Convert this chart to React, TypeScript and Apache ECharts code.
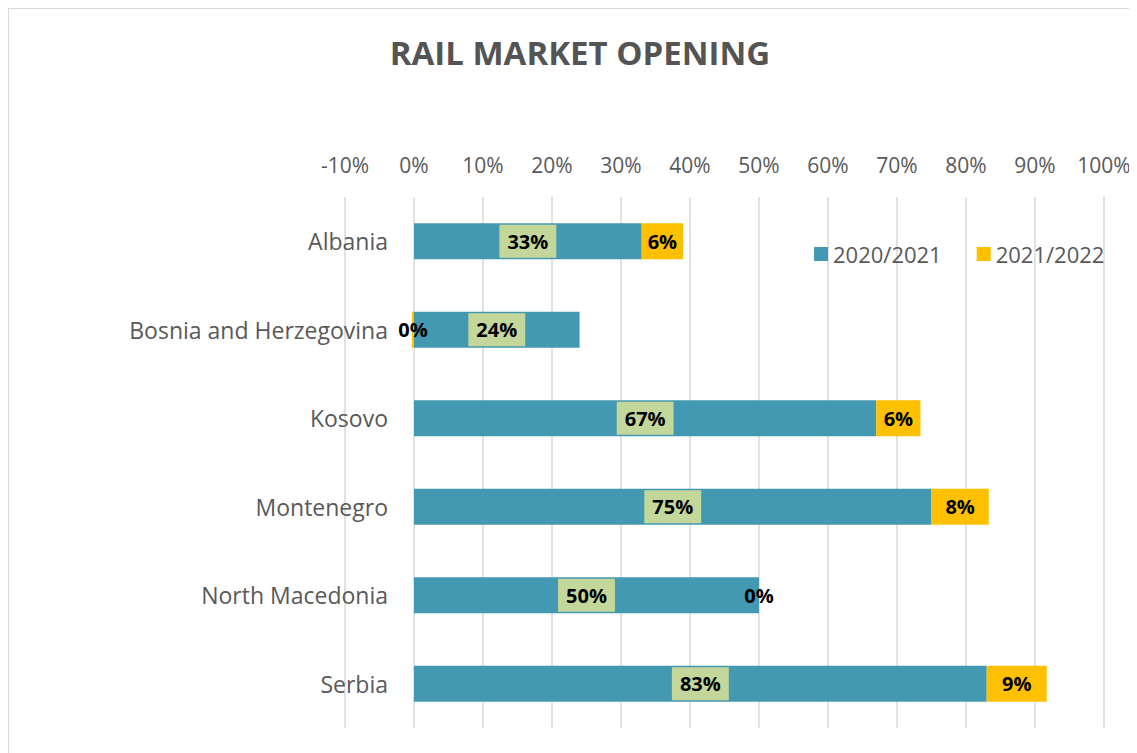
import React, { useEffect, useRef } from "react";
import * as echarts from "echarts";

const categories = ["Albania", "Bosnia and Herzegovina", "Kosovo", "Montenegro", "North Macedonia", "Serbia"];
const series2021 = [33, 24, 67, 75, 50, 83];
const series2022 = [6, -0.3, 6.4, 8.3, 0, 8.7];
const xTicks = { min: -10, max: 100, interval: 10 };

const FONT = "'Open Sans', 'Liberation Sans', sans-serif";
const GRAY = "#595959";

export default function App() {
  const ref = useRef<HTMLDivElement>(null);
  useEffect(() => {
    if (!ref.current) return;
    const chart = echarts.init(ref.current, undefined, { renderer: "svg" });
    const fmt = (p: any) => Math.abs(Math.round(p.value)) + "%";
    chart.setOption({
      animation: false,
      backgroundColor: "#ffffff",
      textStyle: { fontFamily: FONT },
      title: {
        text: "RAIL MARKET OPENING",
        left: 566,
        top: 22,
        textAlign: "center",
        textStyle: { fontFamily: FONT, fontSize: 33, fontWeight: "bold", color: "#545454" },
      },
      legend: {
        left: 800,
        top: 229,
        itemWidth: 14,
        itemHeight: 14,
        itemGap: 35,
        icon: "rect",
        textStyle: { fontFamily: FONT, fontSize: 22, color: GRAY },
        data: ["2020/2021", "2021/2022"],
      },
      grid: { left: 336, right: 33, top: 188, bottom: 25, containLabel: false },
      xAxis: {
        type: "value",
        position: "top",
        min: xTicks.min,
        max: xTicks.max,
        interval: xTicks.interval,
        axisLine: { show: false },
        axisTick: { show: false },
        axisLabel: { formatter: "{value}%", fontSize: 21, color: GRAY, fontFamily: FONT, margin: 22 },
        splitLine: { show: true, lineStyle: { color: "#D9D9D9", width: 1.5 } },
      },
      yAxis: {
        type: "category",
        inverse: true,
        data: categories,
        axisLine: { show: false },
        axisTick: { show: false },
        axisLabel: { fontSize: 23, color: GRAY, fontFamily: FONT, margin: -43 },
        splitLine: { show: false },
      },
      series: [
        {
          name: "2020/2021",
          type: "bar",
          stack: "total",
          barWidth: 36,
          data: series2021,
          itemStyle: { color: "#4399B1" },
          label: {
            show: true,
            position: "inside",
            formatter: fmt,
            fontFamily: FONT,
            fontSize: 20,
            fontWeight: "bold",
            color: "#000000",
            backgroundColor: "#C4D79B",
            padding: [7, 8, 6, 8],
          },
        },
        {
          name: "2021/2022",
          type: "bar",
          stack: "total",
          barWidth: 36,
          data: series2022,
          itemStyle: { color: "#FFC000" },
          label: {
            show: true,
            position: "inside",
            formatter: fmt,
            fontFamily: FONT,
            fontSize: 20,
            fontWeight: "bold",
            color: "#000000",
          },
        },
      ],
    });
    return () => chart.dispose();
  }, []);
  return (
    <div
      style={{
        width: 1128,
        height: 744,
        borderTop: "1px solid #D9D9D9",
        borderLeft: "1px solid #D9D9D9",
        overflow: "hidden",
      }}
    >
      <div ref={ref} style={{ width: 1128, height: 744 }} />
    </div>
  );
}
